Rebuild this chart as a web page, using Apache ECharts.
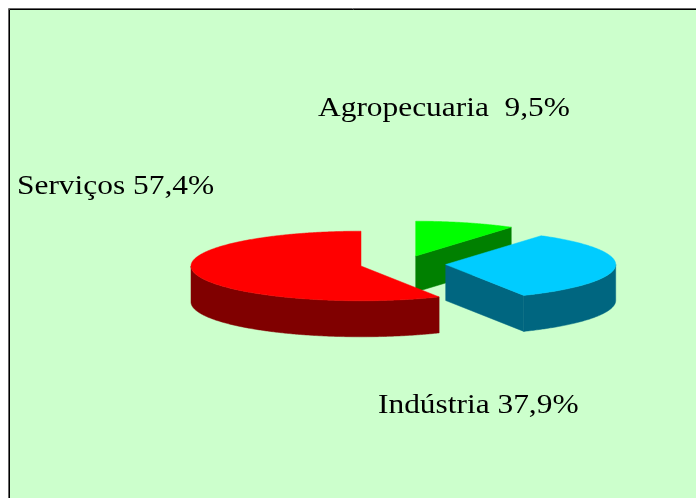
<!DOCTYPE html>
<html>
<head>
<meta charset="utf-8">
<style>
  html, body { margin: 0; padding: 0; background: #fff; }
  #chart { width: 696px; height: 498px; }
</style>
<script src="https://cdn.jsdelivr.net/npm/echarts@6/dist/echarts.min.js"></script>
</head>
<body>
<div id="chart"></div>
<script>
// slices, clockwise from 12 o'clock
const categories = ['Agropecuaria', 'Indústria', 'Serviços'];
// share of the circle as drawn; the printed Indústria label does not agree with its slice
const shares = [9.5, 32.9, 57.6];
const printedValues = ['9,5%', '37,9%', '57,4%'];
const topColors = ['#00ff00', '#00ccff', '#ff0000'];
const sideColors = ['#008000', '#006680', '#800000'];

// pie layout
const radiusX = 170;
const radiusY = 34.8;
const depth = 36;
const centers = [[415.7, 256], [445.7, 264.5], [361, 266]];
const labelBoxes = [
  { x: 318, y: 109, sep: '  ' },
  { x: 378, y: 406, sep: ' ' },
  { x: 17, y: 187, sep: ' ' }
];
// the original lettering is wider than the font's natural shape
const labelStretch = 1.163;

const total = shares.reduce((a, b) => a + b, 0);
const TWO_PI = Math.PI * 2;

function rimPoint(c, t, dy) {
  return [c[0] + radiusX * Math.sin(t), c[1] - radiusY * Math.cos(t) + (dy || 0)];
}

function arc(c, from, to, dy) {
  const steps = Math.max(2, Math.ceil((to - from) / 0.01));
  const pts = [];
  for (let i = 0; i <= steps; i++) {
    pts.push(rimPoint(c, from + ((to - from) * i) / steps, dy));
  }
  return pts;
}

function poly(points, color) {
  return {
    type: 'polygon',
    shape: { points },
    style: { fill: color, stroke: color, lineWidth: 0.5 }
  };
}

function edgeFace(c, t, color) {
  const p = rimPoint(c, t);
  return poly([c, p, [p[0], p[1] + depth], [c[0], c[1] + depth]], color);
}

function renderSlice(params, api) {
  const i = params.dataIndex;
  const c = centers[i];
  let before = 0;
  for (let k = 0; k < i; k++) before += shares[k];
  const start = (before / total) * TWO_PI;
  const end = start + (api.value(0) / total) * TWO_PI;
  const children = [];

  // outer wall, only the part on the near half of the rim
  const from = Math.max(start, Math.PI / 2);
  const to = Math.min(end, (Math.PI * 3) / 2);
  if (to > from) {
    const upper = arc(c, from, to, 0);
    const lower = arc(c, from, to, depth).reverse();
    children.push(poly(upper.concat(lower), sideColors[i]));
  }
  // cut faces turned towards the viewer
  if (Math.sin(start) < -1e-6) children.push(edgeFace(c, start, sideColors[i]));
  if (Math.sin(end) > 1e-6) children.push(edgeFace(c, end, sideColors[i]));

  children.push(poly([c].concat(arc(c, start, end, 0)), topColors[i]));
  return { type: 'group', children };
}

const chart = echarts.init(document.getElementById('chart'));
chart.setOption({
  animation: false,
  backgroundColor: '#ffffff',
  graphic: [
    {
      type: 'rect',
      z: 0,
      shape: { x: 8.5, y: 8.5, width: 800, height: 600 },
      style: { fill: 'none', stroke: '#666666', lineWidth: 1 }
    },
    {
      type: 'rect',
      z: 0,
      shape: { x: 9.5, y: 9.5, width: 800, height: 600 },
      style: { fill: '#ccffcc', stroke: '#000000', lineWidth: 1 }
    }
  ].concat(categories.map((name, i) => ({
    type: 'text',
    z: 10,
    x: labelBoxes[i].x,
    y: labelBoxes[i].y,
    scaleX: labelStretch,
    style: {
      text: name + labelBoxes[i].sep + printedValues[i],
      fill: '#000000',
      font: '27px "Liberation Serif"',
      verticalAlign: 'middle'
    }
  }))),
  series: [
    {
      type: 'custom',
      coordinateSystem: 'none',
      silent: true,
      z: 5,
      renderItem: renderSlice,
      data: shares.map(v => [v])
    }
  ]
});
</script>
</body>
</html>
